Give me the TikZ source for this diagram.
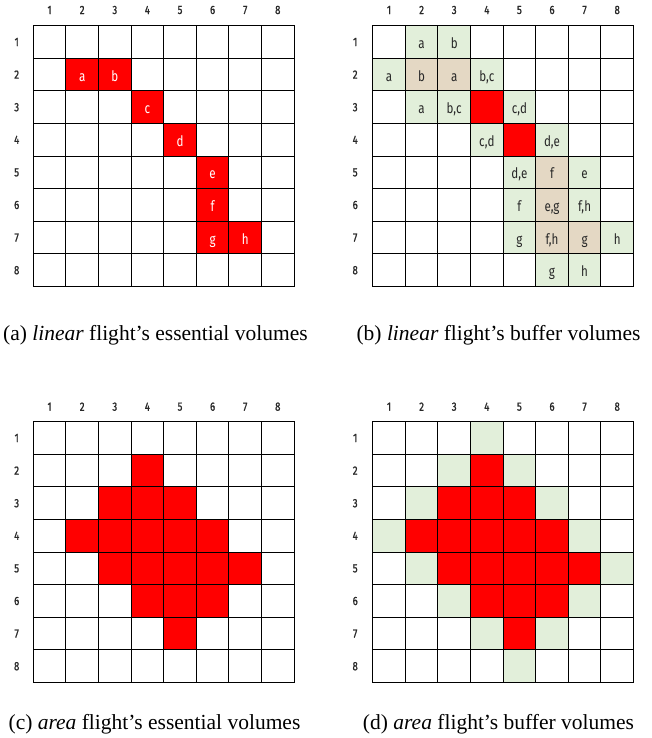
\documentclass[tikz,border=0pt]{standalone}
\usepackage{fontspec}
\setmainfont{Liberation Serif}
\newfontfamily\gridfont[FakeStretch=0.8]{Fira Sans}
\newfontfamily\headfont[FakeStretch=0.8,FakeBold=1.2]{Fira Sans}
\definecolor{essred}{RGB}{255,0,0}
\definecolor{bufgreen}{RGB}{226,239,218}
\definecolor{buftan}{RGB}{228,216,196}
\definecolor{labgray}{RGB}{40,40,40}
\newcommand\cs{32.6}
\tikzset{
  gridline/.style={line width=1.1pt, black},
  headlabel/.style={font=\headfont\fontsize{12}{12}\selectfont, text=labgray, inner sep=0pt},
  cellbox/.style={minimum width=32.6pt, minimum height=32.6pt, inner sep=0pt, outer sep=0pt,
     font=\gridfont\fontsize{14.5}{15}\selectfont, text height=13pt, text depth=0pt, draw=none},
  caption/.style={font=\fontsize{21.5}{26}\selectfont, anchor=base, inner sep=0pt},
}
% panel lines and headers: #1 prefix, #2 shift x, #3 shift y, #4 row label distance, #5 column label distance
\newcommand\panelgrid[5]{%
  \begin{scope}[shift={(#2,#3)}]
    \foreach \i in {0,...,8} {
      \draw[gridline] ({\i*\cs},0) -- ({\i*\cs},{8*\cs});
      \draw[gridline] (0,{\i*\cs}) -- ({8*\cs},{\i*\cs});
    }
    \draw[gridline, line join=miter] (0,0) rectangle ({8*\cs},{8*\cs});
    \foreach \i in {1,...,8} {
      \node[headlabel] (#1-col-\i) at ({(\i-0.5)*\cs},{-#5}) {\i};
      \node[headlabel] (#1-row-\i) at ({-#4},{(\i-0.5)*\cs}) {\i};
    }
  \end{scope}}
\begin{document}
\begin{tikzpicture}[x=1pt,y=-1pt]
\useasboundingbox (0,0) rectangle (651,738);
\fill[white] (0,0) rectangle (651,738);

% (a) linear essential
\begin{scope}[shift={(33.3,25.7)}]
  \foreach \c/\r/\t in {2/2/a,3/2/b,4/3/c,5/4/d,6/5/e,6/6/f,6/7/g,7/7/h}
    \node[cellbox, fill=essred, text=white] (a-\r-\c) at ({(\c-0.5)*\cs},{(\r-0.5)*\cs}) {\t};
\end{scope}
\panelgrid{a}{33.3}{25.7}{16.6}{15.7}

% (b) linear buffer
\begin{scope}[shift={(372.7,25.7)}]
  \foreach \c/\r/\col/\t in {
      2/1/bufgreen/a, 3/1/bufgreen/b,
      1/2/bufgreen/a, 2/2/buftan/b, 3/2/buftan/a, 4/2/bufgreen/{b,c},
      2/3/bufgreen/a, 3/3/bufgreen/{b,c}, 4/3/essred/{}, 5/3/bufgreen/{c,d},
      4/4/bufgreen/{c,d}, 5/4/essred/{}, 6/4/bufgreen/{d,e},
      5/5/bufgreen/{d,e}, 6/5/buftan/f, 7/5/bufgreen/e,
      5/6/bufgreen/f, 6/6/buftan/{e,g}, 7/6/bufgreen/{f,h},
      5/7/bufgreen/g, 6/7/buftan/{f,h}, 7/7/buftan/g, 8/7/bufgreen/h,
      6/8/bufgreen/g, 7/8/bufgreen/h}
    \node[cellbox, fill=\col, text=labgray] (b-\r-\c) at ({(\c-0.5)*\cs},{(\r-0.5)*\cs}) {\t};
\end{scope}
\panelgrid{b}{372.7}{25.7}{17.5}{15.7}

% (c) area essential
\begin{scope}[shift={(33.3,421.7)}]
  \foreach \c/\r in {4/2, 3/3,4/3,5/3, 2/4,3/4,4/4,5/4,6/4, 3/5,4/5,5/5,6/5,7/5, 4/6,5/6,6/6, 5/7}
    \node[cellbox, fill=essred] (c-\r-\c) at ({(\c-0.5)*\cs},{(\r-0.5)*\cs}) {};
\end{scope}
\panelgrid{c}{33.3}{421.7}{16.6}{15}

% (d) area buffer
\begin{scope}[shift={(372.7,421.7)}]
  \foreach \c/\r in {4/2, 3/3,4/3,5/3, 2/4,3/4,4/4,5/4,6/4, 3/5,4/5,5/5,6/5,7/5, 4/6,5/6,6/6, 5/7}
    \node[cellbox, fill=essred] (d-\r-\c) at ({(\c-0.5)*\cs},{(\r-0.5)*\cs}) {};
  \foreach \c/\r in {4/1, 3/2,5/2, 2/3,6/3, 1/4,7/4, 2/5,8/5, 3/6,7/6, 4/7,6/7, 5/8}
    \node[cellbox, fill=bufgreen] (d-\r-\c) at ({(\c-0.5)*\cs},{(\r-0.5)*\cs}) {};
\end{scope}
\panelgrid{d}{372.7}{421.7}{17.5}{15}

% captions
\node[caption] (capa) at (155.4,340) {(a) \textit{linear} flight's essential volumes};
\node[caption] (capb) at (498.5,340) {(b) \textit{linear} flight's buffer volumes};
\node[caption] (capc) at (154.5,729) {(c) \textit{area} flight's essential volumes};
\node[caption] (capd) at (498.5,729) {(d) \textit{area} flight's buffer volumes};
\end{tikzpicture}
\end{document}
